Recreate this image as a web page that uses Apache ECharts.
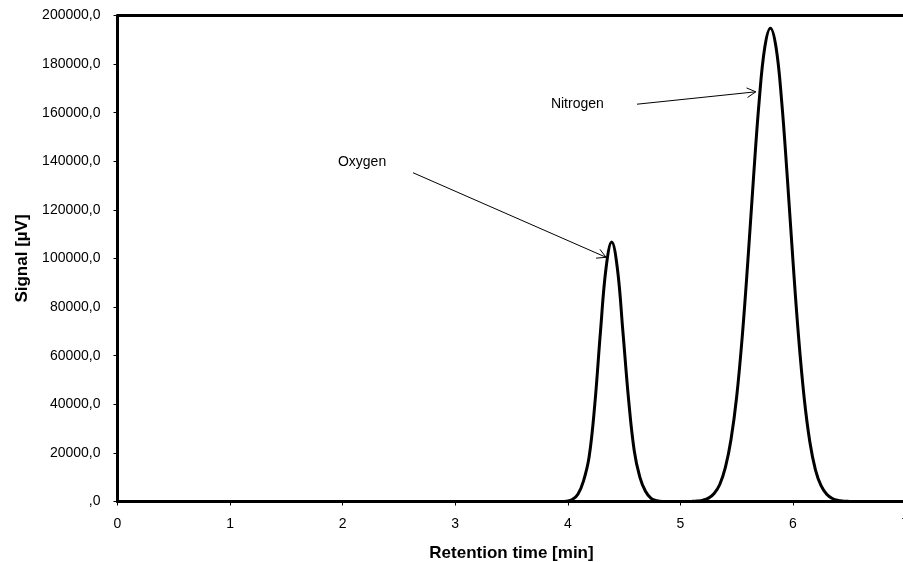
<!DOCTYPE html>
<html><head><meta charset="utf-8">
<script src="https://cdn.jsdelivr.net/npm/echarts@6/dist/echarts.min.js"></script>
<style>html,body{margin:0;padding:0;background:#fff}#c{width:903px;height:562px}</style>
</head><body><div id="c"></div>
<script>
// ---- data ----
const xTicks = [0, 1, 2, 3, 4, 5, 6, 7];
const yTickLabels = [',0', '20000,0', '40000,0', '60000,0', '80000,0', '100000,0',
  '120000,0', '140000,0', '160000,0', '180000,0', '200000,0'];

const retentionTime = [
  0, 1, 2, 3, 3.89, 3.94,
  3.99, 4.04, 4.09, 4.14, 4.19, 4.24, 4.29, 4.34, 4.39, 4.44, 4.49, 4.54, 4.59, 4.64, 4.69, 4.74, 4.79, 4.84,
  4.89, 4.95, 5.00, 5.05,
  5.10, 5.15, 5.20, 5.25, 5.30, 5.35, 5.40, 5.45, 5.50, 5.55, 5.60, 5.65, 5.70, 5.75, 5.80,
  5.85, 5.90, 5.95, 6.00, 6.05, 6.10, 6.15, 6.20, 6.25, 6.30, 6.35, 6.40, 6.45, 6.50, 6.55,
  6.60, 7
];
const signal = [
  0, 0, 0, 0, 0, 0,
  150, 800, 3000, 8500, 18500, 40000, 69700, 96100, 106800, 96100, 69700, 42000, 21000, 10000, 4200, 1300, 300, 0,
  0, 0, 0, 0,
  50, 200, 550, 1400, 3300, 7000, 14000, 25500, 43000, 68000, 99200, 133400, 164700, 186900, 194800,
  186900, 164700, 133400, 99200, 67800, 42600, 24600, 13050, 6500, 3000, 1250, 450, 150, 40, 0,
  0, 0
];

const peakNames = ['Oxygen', 'Nitrogen'];
const labelAt = [[1.958, 139500], [3.85, 163400]];      // text left/middle, data units
const arrowFrom = [[2.625, 135300], [4.615, 163500]];
const arrowTo = [[4.34, 100500], [5.67, 168600]];

const FONT = '"Liberation Sans", Arial, sans-serif';
const chart = echarts.init(document.getElementById('c'), null, {renderer: 'canvas'});

const axisCommon = {
  type: 'value',
  splitLine: {show: false},
  axisLine: {show: true, onZero: false, lineStyle: {color: '#000', width: 3}},
  axisTick: {show: true, inside: false, length: 4, lineStyle: {color: '#000', width: 1}},
};

chart.setOption({
  animation: false,
  backgroundColor: '#fff',
  grid: {left: 117.5, top: 15.5, width: 788, height: 486, containLabel: false, outerBoundsMode: 'none'},
  xAxis: [
    Object.assign({}, axisCommon, {
      position: 'bottom', min: 0, max: 7, interval: 1,
      name: 'Retention time [min]', nameLocation: 'middle', nameGap: 43,
      nameTextStyle: {fontFamily: FONT, fontSize: 17, fontWeight: 'bold', color: '#000'},
      axisLabel: {margin: 16, fontFamily: FONT, fontSize: 14, color: '#000',
        showMaxLabel: true, formatter: v => String(xTicks[Math.round(v)])}
    }),
    {type: 'value', position: 'top', min: 0, max: 7, interval: 1,
      splitLine: {show: false}, axisTick: {show: false}, axisLabel: {show: false},
      axisLine: {show: true, onZero: false, lineStyle: {color: '#000', width: 3}}}
  ],
  yAxis: Object.assign({}, axisCommon, {
    min: 0, max: 200000, interval: 20000,
    name: 'Signal [µV]', nameLocation: 'middle', nameGap: 87, nameRotate: 90,
    nameTextStyle: {fontFamily: FONT, fontSize: 17, fontWeight: 'bold', color: '#000'},
    axisLabel: {margin: 17, fontFamily: FONT, fontSize: 14, color: '#000',
      formatter: (v) => yTickLabels[Math.round(v / 20000)]}
  }),
  series: [{
    type: 'line',
    xAxisIndex: 0,
    data: retentionTime.map((t, i) => [t, signal[i]]),
    showSymbol: false,
    smooth: 0.4,
    lineStyle: {color: '#000', width: 3},
    z: 3
  }]
});

// annotations positioned through the chart's own coordinate system
const els = [];
for (let i = 0; i < peakNames.length; i++) {
  const tp = chart.convertToPixel({gridIndex: 0}, labelAt[i]);
  els.push({type: 'text', x: tp[0], y: tp[1], z: 10,
    style: {text: peakNames[i], font: '14px ' + FONT, fill: '#000', textAlign: 'left', textVerticalAlign: 'middle'}});
  const a = chart.convertToPixel({gridIndex: 0}, arrowFrom[i]);
  const b = chart.convertToPixel({gridIndex: 0}, arrowTo[i]);
  const ang = Math.atan2(b[1] - a[1], b[0] - a[0]);
  const L = 10, w = 0.5;
  const p1 = [b[0] - L * Math.cos(ang - w), b[1] - L * Math.sin(ang - w)];
  const p2 = [b[0] - L * Math.cos(ang + w), b[1] - L * Math.sin(ang + w)];
  els.push({type: 'line', z: 10, shape: {x1: a[0], y1: a[1], x2: b[0], y2: b[1]},
    style: {stroke: '#000', lineWidth: 1}});
  els.push({type: 'polyline', z: 10, shape: {points: [p1, b, p2]},
    style: {stroke: '#000', lineWidth: 1, fill: null}});
}
chart.setOption({graphic: els});
</script>
</body></html>
